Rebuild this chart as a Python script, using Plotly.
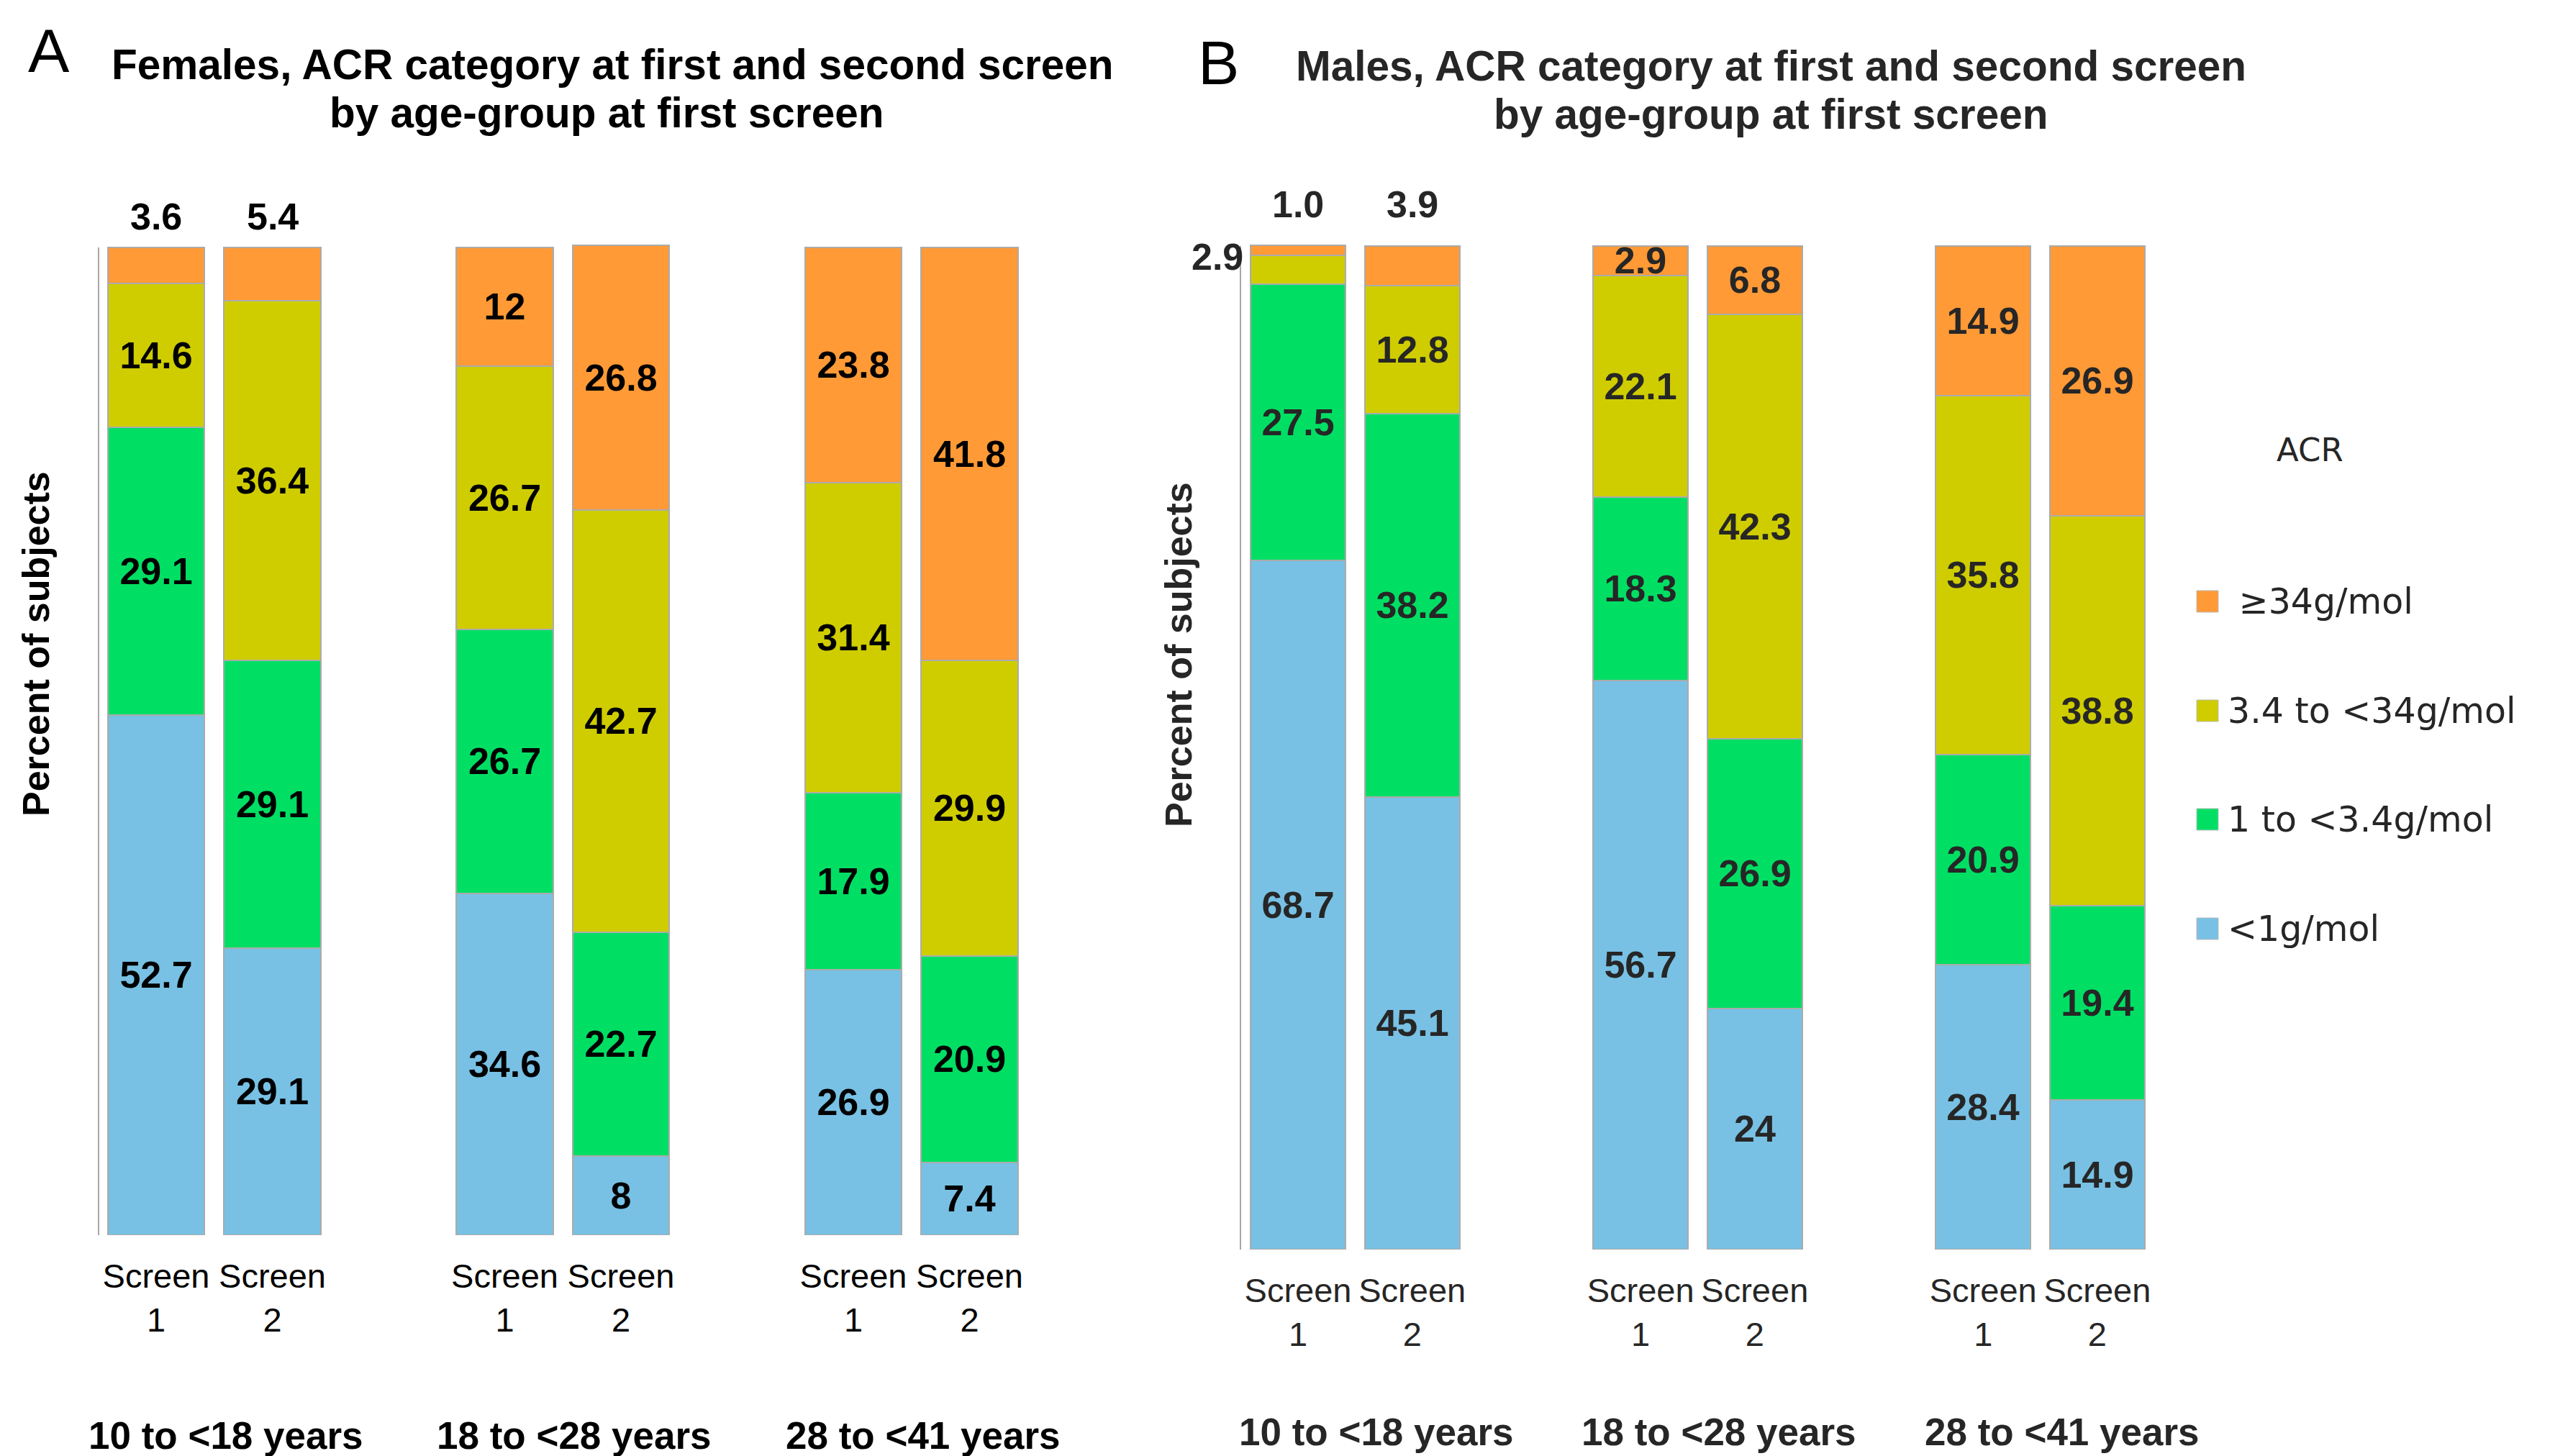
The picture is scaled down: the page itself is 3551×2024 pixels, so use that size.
import plotly.graph_objects as go

W, H = 3551, 2024
OFF = 8  # page body margin of the rendered html


def px_x(v):
    return (v - OFF) / W


def px_y(v):
    return 1 - (v - OFF) / H


# ---------------- data ----------------
age_groups = ["10 to <18 years", "18 to <28 years", "28 to <41 years"]
screen_ticks = ["Screen<br>1", "Screen<br>2"]
acr_categories = ["<1g/mol", "1 to <3.4g/mol", "3.4 to <34g/mol", "\u00a0\u226534g/mol"]

# order of bars inside each panel: (group1 S1, group1 S2, group2 S1, group2 S2, group3 S1, group3 S2)
female_lt1 = [52.7, 29.1, 34.6, 8, 26.9, 7.4]
female_1_to_3_4 = [29.1, 29.1, 26.7, 22.7, 17.9, 20.9]
female_3_4_to_34 = [14.6, 36.4, 26.7, 42.7, 31.4, 29.9]
female_ge34 = [3.6, 5.4, 12, 26.8, 23.8, 41.8]

male_lt1 = [68.7, 45.1, 56.7, 24, 28.4, 14.9]
male_1_to_3_4 = [27.5, 38.2, 18.3, 26.9, 20.9, 19.4]
male_3_4_to_34 = [2.9, 12.8, 22.1, 42.3, 35.8, 38.8]
male_ge34 = [1.0, 3.9, 2.9, 6.8, 14.9, 26.9]

colors = ["#78C1E4", "#00DF64", "#CFCD00", "#FF9A36"]
FONT = "Liberation Sans, Arial, sans-serif"
LEG_FONT = "DejaVu Sans, sans-serif"

# bar x positions derived from group / screen index
bar_x = [3 * g + s for g in range(len(age_groups)) for s in range(len(screen_ticks))]
group_x = [3 * g + 0.5 for g in range(len(age_groups))]

panels = [
    dict(key="A", xa="x", ya="y", xaxis="xaxis", yaxis="yaxis",
         series=[female_lt1, female_1_to_3_4, female_3_4_to_34, female_ge34],
         fmts=["{:g}", "{:g}", "{:g}", "{:g}"],
         outside_top=[0, 1], outside_left=[],
         title=["Females, ACR category at first and second screen", "by age-group at first screen"],
         title_x=[851, 843], title_y=[89, 157], letter_xy=(68, 70),
         txtcolor="#000000",
         axis_px=137, x0_px=217, unit=161.5, right_px=1500, y0_px=1717, y100_px=344,
         top_shift=43, ylab_xy=(50, 895), group_y=1995, group_shift=16),
    dict(key="B", xa="x2", ya="y2", xaxis="xaxis2", yaxis="yaxis2",
         series=[male_lt1, male_1_to_3_4, male_3_4_to_34, male_ge34],
         fmts=["{:g}", "{:g}", "{:g}", "{:.1f}"],
         outside_top=[0, 1], outside_left=[0],
         title=["Males, ACR category at first and second screen", "by age-group at first screen"],
         title_x=[2461, 2461], title_y=[91, 159], letter_xy=(1693, 87),
         txtcolor="#262626",
         axis_px=1724, x0_px=1804, unit=158.7, right_px=3000, y0_px=1737, y100_px=342,
         top_shift=58, ylab_xy=(1638, 910), group_y=1990, group_shift=30),
]

BAR_W = 0.83
YMAX = 100.3
fig = go.Figure()
annotations = []
shapes = []
layout_axes = {}

for p in panels:
    for k, (vals, fmt) in enumerate(zip(p["series"], p["fmts"])):
        hide = set()
        if k == 3:
            hide |= set(p["outside_top"])
        if k == 2:
            hide |= set(p["outside_left"])
        text = ["" if i in hide else fmt.format(v) for i, v in enumerate(vals)]
        fig.add_trace(go.Bar(
            x=bar_x, y=vals, width=BAR_W, name=acr_categories[k], showlegend=False,
            marker=dict(color=colors[k], line=dict(color="#ABABAB", width=2)),
            text=text, textposition="inside", insidetextanchor="middle",
            textangle=0, constraintext="none", cliponaxis=False,
            textfont=dict(family=FONT, size=52, color=p["txtcolor"], weight="bold"),
            xaxis=p["xa"], yaxis=p["ya"], hoverinfo="skip",
        ))

    # labels of small top segments, written above the bars
    fmt_top = p["fmts"][3]
    for i in p["outside_top"]:
        total = sum(s[i] for s in p["series"])
        annotations.append(dict(
            x=bar_x[i], y=min(total, 100), xref=p["xa"], yref=p["ya"],
            text=fmt_top.format(p["series"][3][i]), showarrow=False,
            yanchor="middle", yshift=p["top_shift"],
            font=dict(family=FONT, size=52, color=p["txtcolor"], weight="bold")))
    # label of a thin segment written to the left of the bar
    for i in p["outside_left"]:
        base = p["series"][0][i] + p["series"][1][i]
        annotations.append(dict(
            x=bar_x[i] - BAR_W / 2, y=base + p["series"][2][i] / 2,
            xref=p["xa"], yref=p["ya"],
            text=p["fmts"][2].format(p["series"][2][i]), showarrow=False,
            xanchor="right", yanchor="middle", xshift=-8, yshift=18,
            font=dict(family=FONT, size=52, color=p["txtcolor"], weight="bold")))

    # group labels under the screens
    for gx, gname in zip(group_x, age_groups):
        annotations.append(dict(
            x=gx, xref=p["xa"], y=px_y(p["group_y"]), yref="paper",
            text=gname, showarrow=False, xanchor="center", yanchor="middle",
            xshift=p["group_shift"],
            font=dict(family=FONT, size=53, color=p["txtcolor"], weight="bold")))

    # y axis title
    annotations.append(dict(
        x=px_x(p["ylab_xy"][0]), y=px_y(p["ylab_xy"][1]), xref="paper", yref="paper",
        text="Percent of subjects", textangle=-90, showarrow=False,
        xanchor="center", yanchor="middle",
        font=dict(family=FONT, size=52, color=p["txtcolor"], weight="bold")))

    # panel titles
    for line, tx, ty in zip(p["title"], p["title_x"], p["title_y"]):
        annotations.append(dict(
            x=px_x(tx), y=px_y(ty), xref="paper", yref="paper", text=line,
            showarrow=False, xanchor="center", yanchor="middle",
            font=dict(family=FONT, size=58.5, color=p["txtcolor"], weight="bold")))
    annotations.append(dict(
        x=px_x(p["letter_xy"][0]), y=px_y(p["letter_xy"][1]), xref="paper", yref="paper",
        text=p["key"], showarrow=False, xanchor="center", yanchor="middle",
        font=dict(family=FONT, size=86, color="#000000")))

    lo = (p["axis_px"] - p["x0_px"]) / p["unit"]
    hi = (p["right_px"] - p["x0_px"]) / p["unit"]
    y_top_px = p["y0_px"] - (p["y0_px"] - p["y100_px"]) * YMAX / 100
    layout_axes[p["xaxis"]] = dict(
        domain=[px_x(p["axis_px"]), px_x(p["right_px"])], range=[lo, hi],
        tickmode="array", tickvals=bar_x, ticktext=screen_ticks * len(age_groups),
        showgrid=False, zeroline=False, showline=False, ticks="",
        ticklabelstandoff=25,
        tickfont=dict(family=FONT, size=47, color=p["txtcolor"]),
        anchor=p["ya"], fixedrange=True)
    layout_axes[p["yaxis"]] = dict(
        domain=[px_y(p["y0_px"]), px_y(y_top_px)], range=[0, YMAX],
        showgrid=False, zeroline=False, showline=False,
        showticklabels=False, ticks="", anchor=p["xa"], fixedrange=True)
    # vertical axis line from 0 to 100 %
    shapes.append(dict(type="line", xref=p["xa"] + " domain", yref=p["ya"],
                       x0=0, x1=0, y0=0, y1=100,
                       line=dict(color="#A6A6A6", width=2)))

# legend (title + swatches + labels), drawn top to bottom: >=34, 3.4-34, 1-3.4, <1
annotations.append(dict(
    x=px_x(3210), y=px_y(625), xref="paper", yref="paper", text="ACR",
    showarrow=False, xanchor="center", yanchor="middle",
    font=dict(family=LEG_FONT, size=45, color="#262626")))
leg_rows_y = [836, 988, 1139, 1291]
for row, k in enumerate(reversed(range(len(acr_categories)))):
    cy = leg_rows_y[row]
    shapes.append(dict(type="rect", xref="paper", yref="paper",
                       x0=px_x(3053), x1=px_x(3083), y0=px_y(cy + 15), y1=px_y(cy - 15),
                       fillcolor=colors[k], line=dict(color="#BBBBBB", width=1)))
    annotations.append(dict(
        x=px_x(3094), y=px_y(cy), xref="paper", yref="paper", text=acr_categories[k],
        showarrow=False, xanchor="left", yanchor="middle",
        font=dict(family=LEG_FONT, size=49, color="#262626")))

fig.update_layout(
    width=W, height=H, autosize=False,
    margin=dict(l=0, r=0, t=0, b=0),
    paper_bgcolor="white", plot_bgcolor="white",
    barmode="stack", bargap=0, showlegend=False,
    annotations=annotations, shapes=shapes,
    **layout_axes,
)

fig.write_html("out.html")
